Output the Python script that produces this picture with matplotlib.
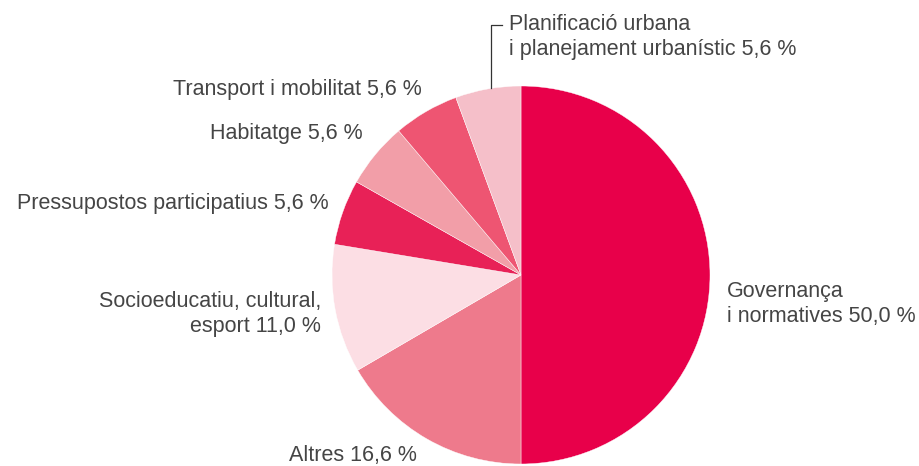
import matplotlib
matplotlib.use("Agg")
import matplotlib.pyplot as plt

labels = [
    "Governança\ni normatives 50,0 %",
    "Altres 16,6 %",
    "Socioeducatiu, cultural,\nesport 11,0 %",
    "Pressupostos participatius 5,6 %",
    "Habitatge 5,6 %",
    "Transport i mobilitat 5,6 %",
    "Planificació urbana\ni planejament urbanístic 5,6 %",
]
values = [50.0, 16.6, 11.0, 5.6, 5.6, 5.6, 5.6]
colors = ["#E8004A", "#EE7A8C", "#FCDEE4", "#E82157", "#F29EA8", "#EE5572", "#F5BFC9"]

# label anchor (pixel coords from top-left) and alignment
label_pos = [
    (727, 304, "left"),
    (417, 456, "right"),
    (321, 314, "right"),
    (329, 203, "right"),
    (363, 133, "right"),
    (422, 90, "right"),
    (509, 37, "left"),
]

W, H = 920, 466
fig = plt.figure(figsize=(W / 100, H / 100), dpi=100)
ax = fig.add_axes([0, 0, 1, 1])

cx, cy, r = 521, H - 275, 189
ax.pie(values, colors=colors, startangle=90, counterclock=False,
       center=(cx, cy), radius=r, frame=True,
       wedgeprops=dict(edgecolor="white", linewidth=0.3))
ax.set_xlim(0, W)
ax.set_ylim(0, H)
ax.set_aspect("equal")
ax.axis("off")

for lab, (x, y, ha) in zip(labels, label_pos):
    ax.text(x, H - y, lab, ha=ha, va="center", fontsize=15.5,
            family=["Liberation Sans", "DejaVu Sans"],
            color="#454545", linespacing=1.3)

# leader line for the top slice
ax.plot([491, 491, 502], [H - 88, H - 25, H - 25], color="#333333", lw=0.9)

fig.savefig("out.png", dpi=100)
